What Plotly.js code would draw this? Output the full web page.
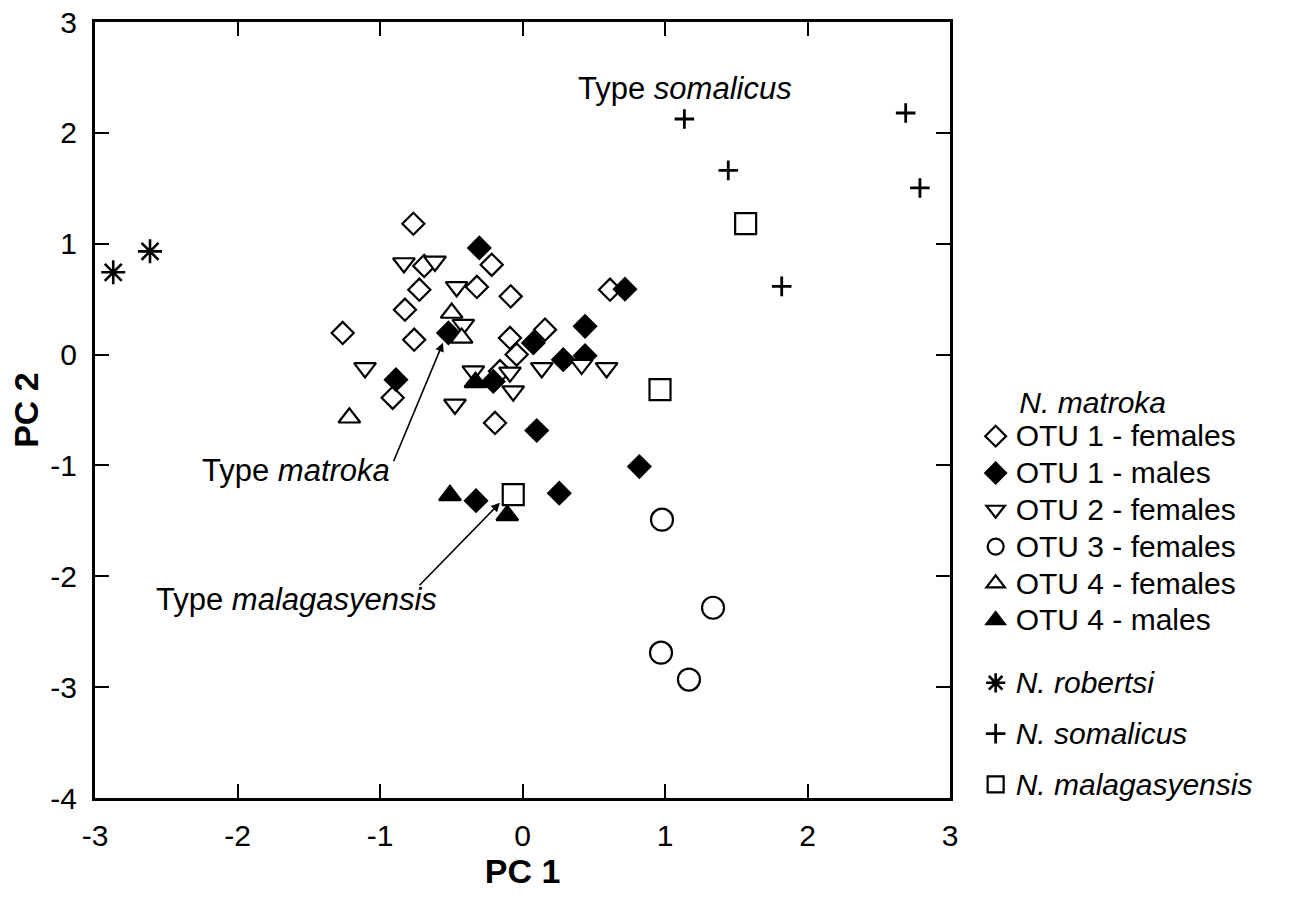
<!DOCTYPE html>
<html>
<head>
<meta charset="utf-8">
<script src="https://cdn.plot.ly/plotly-3.0.1.min.js"></script>
<style>html,body{margin:0;padding:0;background:#fff;}#chart{width:1289px;height:899px;}</style>
</head>
<body>
<div id="chart"></div>
<script>
// ---- data ----
const otu1FemX = [-0.766, -0.216, -0.69, -0.724, -0.32, -0.083, -0.825, -1.262, -0.76, -0.088, 0.158, -0.041, 0.614, -0.911, -0.193, -0.158];
const otu1FemY = [1.18, 0.81, 0.80, 0.585, 0.61, 0.525, 0.405, 0.195, 0.134, 0.15, 0.225, 0.0, 0.585, -0.39, -0.617, -0.15];

const otu1MaleX = [-0.303, 0.719, -0.52, 0.439, 0.076, 0.286, 0.439, -0.888, -0.205, 0.1, 0.82, -0.326, 0.258];
const otu1MaleY = [0.962, 0.59, 0.195, 0.255, 0.105, -0.046, -0.01, -0.226, -0.242, -0.685, -1.01, -1.318, -1.25];

const otu2FemX = [-0.832, -0.614, -0.462, -0.415, -1.105, -0.345, -0.088, -0.065, 0.135, 0.415, 0.59, -0.474];
const otu2FemY = [0.826, 0.84, 0.61, 0.27, -0.12, -0.15, -0.16, -0.33, -0.12, -0.09, -0.12, -0.45];

const otu3FemX = [0.979, 1.337, 0.972, 1.168];
const otu3FemY = [-1.489, -2.284, -2.689, -2.932];

const otu4FemX = [-1.215, -0.497, -0.427];
const otu4FemY = [-0.57, 0.375, 0.15];

const otu4MaleX = [-0.33, -0.509, -0.107];
const otu4MaleY = [-0.25, -1.27, -1.45];

const robertsiX = [-2.872, -2.614];
const robertsiY = [0.742, 0.931];

const somalicusX = [1.136, 2.689, 1.444, 2.789, 1.819];
const somalicusY = [2.125, 2.179, 1.662, 1.503, 0.615];

const malagasyensisX = [1.566, 0.965, -0.065];
const malagasyensisY = [1.181, -0.317, -1.264];

const xTicks = [-3, -2, -1, 0, 1, 2, 3];
const yTicks = [-4, -3, -2, -1, 0, 1, 2, 3];

// ---- drawing ----
const FONT = "Liberation Sans, Arial, Helvetica, sans-serif";
const LW = 2.2;
const TXT = 30; // displayed text size

function big(s) { return '<span style="font-size:' + TXT + 'px">' + s + '</span>'; }

function tr(name, x, y, symbol, size, fill, legend, group, lw) {
  return {
    type: 'scatter', mode: 'markers', name: big(name), x: x, y: y,
    legend: legend, legendgroup: group,
    marker: { symbol: symbol, size: size, color: fill, line: { color: '#000', width: lw || LW } },
    hoverinfo: 'x+y'
  };
}

const traces = [
  tr('OTU 1 - females', otu1FemX, otu1FemY, 'diamond', 17, '#fff', 'legend', 'm'),
  tr('OTU 1 - males', otu1MaleX, otu1MaleY, 'diamond', 17, '#000', 'legend', 'm'),
  tr('OTU 2 - females', otu2FemX, otu2FemY, 'triangle-down', 19, '#fff', 'legend', 'm'),
  tr('OTU 3 - females', otu3FemX, otu3FemY, 'circle', 22, '#fff', 'legend', 'm'),
  tr('OTU 4 - females', otu4FemX, otu4FemY, 'triangle-up', 19, '#fff', 'legend', 'm'),
  tr('OTU 4 - males', otu4MaleX, otu4MaleY, 'triangle-up', 19, '#000', 'legend', 'm'),
  tr('<i>N. robertsi</i>', robertsiX, robertsiY, 'asterisk-open', 20, '#000', 'legend2', 'r', 2.6),
  tr('<i>N. somalicus</i>', somalicusX, somalicusY, 'cross-thin-open', 14, '#000', 'legend2', 's', 2.8),
  tr('<i>N. malagasyensis</i>', malagasyensisX, malagasyensisY, 'square', 21, '#fff', 'legend2', 'g')
];

const axisCommon = {
  showgrid: false, zeroline: false,
  showline: true, linecolor: '#000', linewidth: 3, mirror: 'ticks',
  ticks: 'inside', ticklen: 14, tickwidth: 2, tickcolor: '#000',
  tickfont: { family: FONT, size: 30, color: '#000' },
  tickmode: 'array'
};

const annFont = { family: FONT, size: 31, color: '#000' };

const layout = {
  width: 1289, height: 899,
  paper_bgcolor: '#fff', plot_bgcolor: '#fff',
  margin: { l: 95, r: 339, t: 22, b: 101 },
  showlegend: true,
  xaxis: Object.assign({}, axisCommon, {
    range: [-3, 3], tickvals: xTicks, ticktext: xTicks.map(String),
    ticklabelstandoff: 9,
    title: { text: '<b>PC 1</b>', font: { family: FONT, size: 34, color: '#000' }, standoff: 6 }
  }),
  yaxis: Object.assign({}, axisCommon, {
    range: [-4, 3], tickvals: yTicks, ticktext: yTicks.map(String),
    ticklabelstandoff: 9,
    title: { text: '<b>PC 2</b>', font: { family: FONT, size: 34, color: '#000' }, standoff: 2 }
  }),
  legend: {
    x: 1.03, xanchor: 'left', y: 0.54, yanchor: 'top',
    bgcolor: 'rgba(0,0,0,0)', borderwidth: 0,
    font: { family: FONT, size: 26, color: '#000' },
    title: { text: big('\u00a0\u00a0\u00a0\u00a0\u00a0<i>N. matroka</i>'), font: { family: FONT, size: 26, color: '#000' } },
    itemsizing: 'trace', itemwidth: 30, tracegroupgap: 0
  },
  legend2: {
    x: 1.03, xanchor: 'left', y: 0.1786, yanchor: 'top',
    bgcolor: 'rgba(0,0,0,0)', borderwidth: 0,
    font: { family: FONT, size: 26, color: '#000' },
    itemsizing: 'trace', itemwidth: 30, tracegroupgap: 14
  },
  annotations: [
    { x: 1.14, y: 2.398, xref: 'x', yref: 'y', text: 'Type <i>somalicus</i>', showarrow: false, font: annFont, xanchor: 'center', yanchor: 'middle' },
    { x: -1.593, y: -1.047, xref: 'x', yref: 'y', text: 'Type <i>matroka</i>', showarrow: false, font: annFont, xanchor: 'center', yanchor: 'middle' },
    { x: -1.586, y: -2.21, xref: 'x', yref: 'y', text: 'Type <i>malagasyensis</i>', showarrow: false, font: annFont, xanchor: 'center', yanchor: 'middle' },
    { x: -0.558, y: 0.107, xref: 'x', yref: 'y', ax: -0.909, ay: -0.976, axref: 'x', ayref: 'y', text: '', showarrow: true, arrowhead: 2, arrowsize: 1.1, arrowwidth: 1.6, arrowcolor: '#000' },
    { x: -0.158, y: -1.337, xref: 'x', yref: 'y', ax: -0.733, ay: -2.094, axref: 'x', ayref: 'y', text: '', showarrow: true, arrowhead: 2, arrowsize: 1.1, arrowwidth: 1.6, arrowcolor: '#000' }
  ]
};

Plotly.newPlot('chart', traces, layout, { displayModeBar: false, staticPlot: true });
</script>
</body>
</html>
